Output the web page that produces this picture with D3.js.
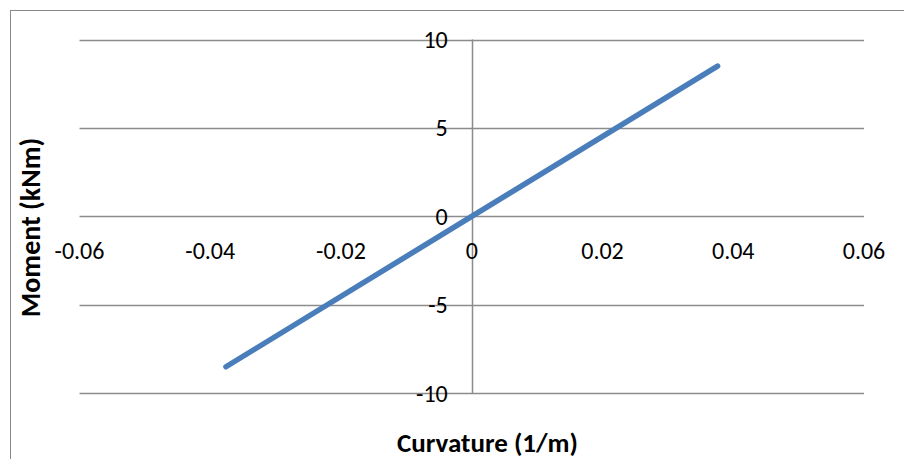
<!DOCTYPE html>
<html><head><meta charset="utf-8">
<script src="https://cdn.jsdelivr.net/npm/d3@7"></script>
<style>
html,body{margin:0;padding:0;background:#fff;}
svg{display:block;}
text{font-family:Carlito, Calibri, Lato, "Open Sans", sans-serif;fill:#000;}
</style></head>
<body>
<svg id="c" width="904" height="459"></svg>
<script>
const curvature = [-0.0376, 0, 0.0376];
const moment = [-8.5, 0, 8.5];
const xTicks = [-0.06, -0.04, -0.02, 0, 0.02, 0.04, 0.06];
const yTicks = [-10, -5, 0, 5, 10];
const xTitle = "Curvature (1/m)";
const yTitle = "Moment (kNm)";

(function () {
const svg = d3.select("#c");
const pL = 79.5, pR = 864, pT = 39.5, pB = 393.3;
const x = d3.scaleLinear().domain([-0.06, 0.06]).range([pL, pR]);
const y = d3.scaleLinear().domain([-10, 10]).range([pB, pT]);

// chart border
svg.append("rect").attr("x", 10.5).attr("y", 10.5).attr("width", 1000).attr("height", 1000)
  .attr("fill", "none").attr("stroke", "#888").attr("stroke-width", 1);

// horizontal gridlines
svg.append("g").selectAll("line").data(yTicks).join("line")
  .attr("x1", pL).attr("x2", pR)
  .attr("y1", d => Math.round(y(d)) + 0.5).attr("y2", d => Math.round(y(d)) + 0.5)
  .attr("stroke", "#8c8c8c").attr("stroke-width", 1.5);

// vertical axis line at x=0
const ax0 = Math.round(x(0)) + 0.5;
svg.append("line").attr("x1", ax0).attr("x2", ax0).attr("y1", pT).attr("y2", pB)
  .attr("stroke", "#8c8c8c").attr("stroke-width", 1.5);

// y tick labels (left of vertical axis)
svg.append("g").selectAll("text").data(yTicks).join("text")
  .attr("x", x(0) - 24).attr("y", d => y(d)).attr("dy", "0.35em")
  .attr("text-anchor", "end").style("font-size", "24px")
  .text(d => String(d));

// x tick labels (below horizontal axis)
svg.append("g").selectAll("text").data(xTicks).join("text")
  .attr("x", d => x(d)).attr("y", y(0) + 43)
  .attr("text-anchor", "middle").style("font-size", "24px")
  .text(d => String(d));

// series line
const line = d3.line().x((d, i) => x(curvature[i])).y((d, i) => y(moment[i]));
svg.append("path").datum(curvature).attr("d", line)
  .attr("fill", "none").attr("stroke", "#4a7ebb").attr("stroke-width", 5.5)
  .attr("stroke-linecap", "round").attr("stroke-linejoin", "round");

// axis titles
svg.append("text").attr("x", 487.5).attr("y", 452).attr("text-anchor", "middle")
  .style("font-size", "27px").style("font-weight", "bold").text(xTitle);
svg.append("text").attr("transform", "translate(40,227.5) rotate(-90)").attr("text-anchor", "middle")
  .style("font-size", "28px").style("font-weight", "bold").text(yTitle);
})();
</script>
</body></html>
